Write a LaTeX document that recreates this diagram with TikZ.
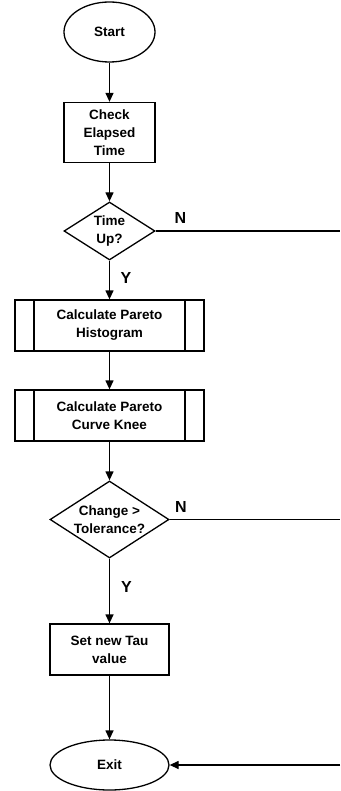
\documentclass[tikz,border=0pt]{standalone}
\usepackage{fontspec}
\setmainfont{Liberation Sans}
\usetikzlibrary{shapes.geometric,arrows.meta}
\begin{document}
\begin{tikzpicture}[x=1pt,y=-1pt,
  every node/.style={font=\bfseries\fontsize{13.5}{18}\selectfont, align=center, line width=1.3pt, inner sep=0pt},
  term/.style={draw, ellipse, minimum width=91pt, minimum height=60pt},
  proc/.style={draw, rectangle, minimum width=91pt, minimum height=60pt},
  subr/.style={draw, rectangle, minimum width=189pt, minimum height=51pt,
    path picture={\draw[line width=1.3pt] ([xshift=19pt]path picture bounding box.north west) -- ([xshift=19pt]path picture bounding box.south west);
                  \draw[line width=1.3pt] ([xshift=-19pt]path picture bounding box.north east) -- ([xshift=-19pt]path picture bounding box.south east);}},
  decis/.style={draw, diamond},
  lab/.style={font=\bfseries\fontsize{16}{18}\selectfont},
  conn/.style={line width=1.3pt},
  arr/.style={conn, -{Triangle[length=9pt,width=8pt]}}
]
\useasboundingbox (0,0) rectangle (340,791);

\node[term] (start) at (109.5,32) {Start};
\node[proc] (check) at (109.5,132.5) {Check\\Elapsed\\Time};
\node[decis, minimum width=91pt, minimum height=58pt,
      label={[align=center]center:Time\\Up?}] (tup) at (109.5,231) {};
\node[subr] (hist) at (109.5,325.5) {Calculate Pareto\\Histogram};
\node[subr] (knee) at (109.5,415.5) {Calculate Pareto\\Curve Knee};
\node[decis, minimum width=119pt, minimum height=77pt,
      label={[align=center]center:Change >\\Tolerance?}] (chg) at (109.5,519.5) {};
\node[proc, minimum width=119pt, minimum height=51pt] (tau) at (109.5,649.5) {Set new Tau\\value};
\node[term, minimum width=119pt, minimum height=50pt] (exit) at (109.5,765) {Exit};

\coordinate (r1) at (340,231);
\coordinate (r2) at (340,519.5);
\coordinate (r3) at (340,765);

\draw[arr] (start) -- (check);
\draw[arr] (check) -- (tup);
\draw[arr] (tup) -- (hist);
\draw[arr] (hist) -- (knee);
\draw[arr] (knee) -- (chg);
\draw[arr] (chg) -- (tau);
\draw[arr] (tau) -- (exit);
\draw[conn] (tup.east) -- (r1);
\draw[conn] (chg.east) -- (r2);
\draw[arr] (r3) -- (exit.east);

\node[lab] (n1) at (180.5,218) {N};
\node[lab] (n2) at (181,507) {N};
\node[lab] (y1) at (126,277.5) {Y};
\node[lab] (y2) at (126.5,587) {Y};
\end{tikzpicture}
\end{document}
